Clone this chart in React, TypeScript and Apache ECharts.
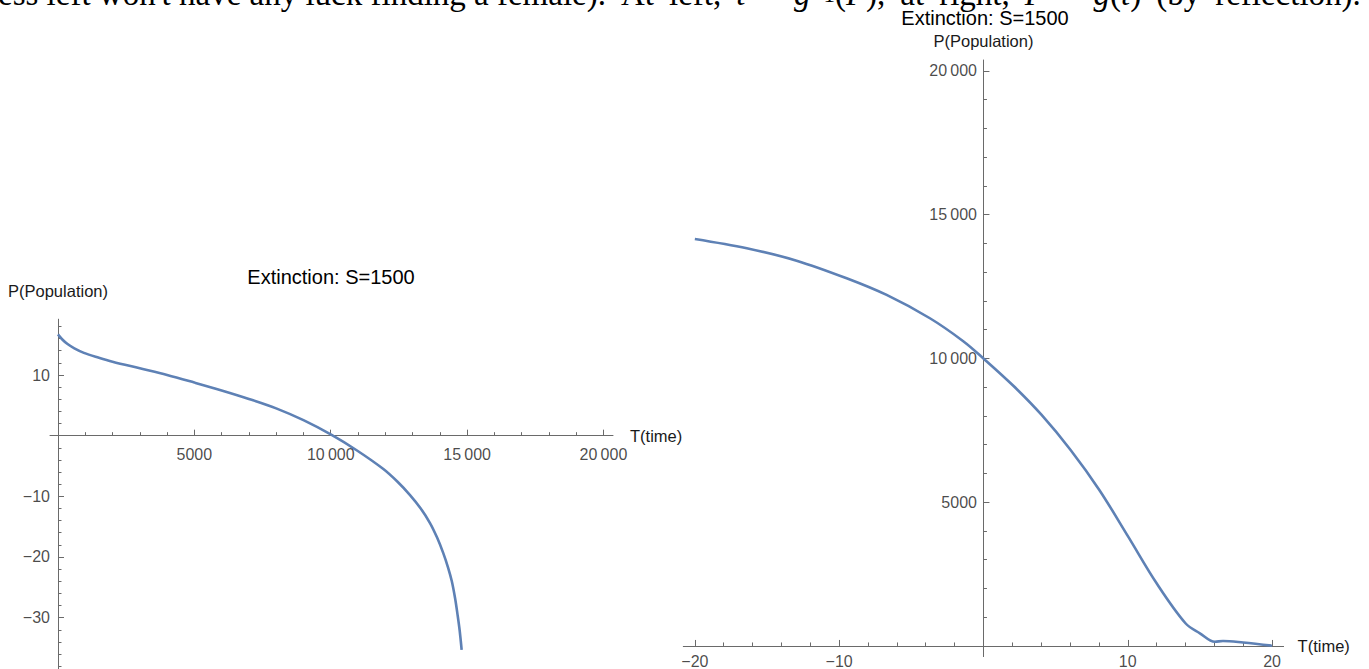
import React, { useEffect, useRef } from "react";
import * as echarts from "echarts";

// ---- data ----
const leftT = [0, 150, 350, 600, 950, 1500, 2000, 3000, 4000, 5000, 6000, 7000, 8000, 9000, 10000, 10950, 11930, 12450, 12900, 13300, 13640, 13900, 14130, 14300, 14440, 14560, 14650, 14730, 14800];
const leftP = [16.7, 15.9, 15.1, 14.4, 13.65, 12.85, 12.2, 11.1, 10.0, 8.75, 7.45, 6.05, 4.5, 2.55, 0.2, -2.4, -5.5, -7.6, -9.75, -12.0, -14.4, -16.8, -19.4, -21.7, -24.0, -26.8, -29.5, -32.2, -35.3];

const rightT = [-20, -16.4, -12.95, -9.48, -6.71, -3.71, -1.4, 0, 2.07, 4.03, 6.04, 8.03, 10.03, 12, 14, 15, 16.04, 16.6, 18, 20];
const rightP = [14157, 13833, 13402, 12789, 12209, 11398, 10600, 10000, 9050, 8035, 6817, 5426, 3802, 2180, 790, 440, 145, 175, 120, 10];

const leftXMajor = [5000, 10000, 15000, 20000];
const leftXMinor = [1000, 2000, 3000, 4000, 6000, 7000, 8000, 9000, 11000, 12000, 13000, 14000, 16000, 17000, 18000, 19000];
const leftYMajor = [10, -10, -20, -30];
const leftYMinor = [18, 16, 14, 12, 8, 6, 4, 2, -2, -4, -6, -8, -12, -14, -16, -18, -22, -24, -26, -28, -32, -34, -36, -38];

const rightXMajor = [-20, -10, 10, 20];
const rightXMinor = [-18, -16, -14, -12, -8, -6, -4, -2, 2, 4, 6, 8, 12, 14, 16, 18];
const rightYMajor = [5000, 10000, 15000, 20000];
const rightYMinor = [1000, 2000, 3000, 4000, 6000, 7000, 8000, 9000, 11000, 12000, 13000, 14000, 16000, 17000, 18000, 19000];

const titleText = "Extinction: S=1500";
const xName = "T(time)";
const yName = "P(Population)";

// ---- styling ----
const SANS = "'Liberation Sans', Arial, sans-serif";
const SERIF = "'Liberation Serif', 'Times New Roman', serif";
const AXIS = "#6a6a6a";
const LABEL = "#1a1a1a";
const CURVE = "#5E81B5";

function fmt(v: number): string {
  const a = Math.abs(v);
  const s = a >= 10000 ? String(a).replace(/\B(?=(\d{3})+(?!\d))/g, "\u2009") : String(a);
  return (v < 0 ? "\u2212" : "") + s;
}

function majorX(grid: number, zeroIdx: number, min: number, max: number, vals: number[], nameGap: number, namePad: number) {
  return {
    type: "value", gridIndex: grid, min, max, position: "bottom",
    axisLine: { show: true, onZero: true, onZeroAxisIndex: zeroIdx, lineStyle: { color: AXIS, width: 1 } },
    axisTick: { show: true, inside: true, length: 6, customValues: vals, lineStyle: { color: AXIS, width: 1 } },
    axisLabel: { show: false },
    splitLine: { show: false },
    name: xName, nameLocation: "end", nameGap,
    nameTextStyle: { color: LABEL, fontSize: 16.5, fontFamily: SANS, align: "left", verticalAlign: "middle", padding: [namePad, 0, 0, 0] },
  };
}
function minorX(grid: number, zeroIdx: number, min: number, max: number, vals: number[]) {
  return {
    type: "value", gridIndex: grid, min, max, position: "bottom",
    axisLine: { show: false, onZero: true, onZeroAxisIndex: zeroIdx },
    axisTick: { show: true, inside: true, length: 3.5, customValues: vals, lineStyle: { color: AXIS, width: 1 } },
    axisLabel: { show: false },
    splitLine: { show: false },
  };
}
function majorY(grid: number, zeroIdx: number, min: number, max: number, vals: number[], nameGap: number) {
  return {
    type: "value", gridIndex: grid, min, max, position: "left",
    axisLine: { show: true, onZero: true, onZeroAxisIndex: zeroIdx, lineStyle: { color: AXIS, width: 1 } },
    axisTick: { show: true, inside: true, length: 6, customValues: vals, lineStyle: { color: AXIS, width: 1 } },
    axisLabel: { show: false },
    splitLine: { show: false },
    name: yName, nameLocation: "end", nameGap,
    nameTextStyle: { color: LABEL, fontSize: 16.5, fontFamily: SANS, align: "center", verticalAlign: "middle" },
  };
}
function minorY(grid: number, zeroIdx: number, min: number, max: number, vals: number[]) {
  return {
    type: "value", gridIndex: grid, min, max, position: "left",
    axisLine: { show: false, onZero: true, onZeroAxisIndex: zeroIdx },
    axisTick: { show: true, inside: true, length: 3.5, customValues: vals, lineStyle: { color: AXIS, width: 1 } },
    axisLabel: { show: false },
    splitLine: { show: false },
  };
}

// tick labels placed on the zero line through the axes' own scales
function tickLabels(xi: number, yi: number, vals: number[], onX: boolean, distance: number) {
  return {
    type: "scatter", xAxisIndex: xi, yAxisIndex: yi, silent: true, z: 4,
    symbolSize: 1, itemStyle: { color: "rgba(0,0,0,0)" },
    data: vals.map((v) => (onX ? [v, 0] : [0, v])),
    label: {
      show: true, position: onX ? "bottom" : "left", distance,
      formatter: (p: any) => fmt(onX ? p.value[0] : p.value[1]),
      color: LABEL, fontSize: 16, fontFamily: SANS,
    },
  };
}

const SP = "{w| }";
const topLine =
  "ess left won't have any luck finding a female)." + SP + "At" + SP + "left," + SP +
  "{i|t}" + SP + "=" + SP + "{i|g}{s|\u22121}({i|P})," + SP + "at" + SP + "right," + SP +
  "{i|P}" + SP + "=" + SP + "{i|g}({i|t})" + SP + "(by" + SP + "reflection).";

export default function App() {
  const ref = useRef<HTMLDivElement>(null);
  useEffect(() => {
    if (!ref.current) return;
    const chart = echarts.init(ref.current, undefined, { renderer: "svg" });
    const option: any = {
      animation: false,
      backgroundColor: "#ffffff",
      grid: [
        { left: 50, top: 319.2, width: 563, height: 350, containLabel: false, outerBoundsMode: "none" },
        { left: 683.3, top: 60, width: 600.3, height: 596.6, containLabel: false, outerBoundsMode: "none" },
      ],
      xAxis: [
        majorX(0, 0, -293, 20350, leftXMajor, 17, 6),
        minorX(0, 0, -293, 20350, leftXMinor),
        majorX(1, 2, -20.8, 20.8, rightXMajor, 14, 8),
        minorX(1, 2, -20.8, 20.8, rightXMinor),
      ],
      yAxis: [
        majorY(0, 0, -38.5, 19.2, leftYMajor, 28),
        minorY(0, 0, -38.5, 19.2, leftYMinor),
        majorY(1, 2, -370, 20380, rightYMajor, 19.5),
        minorY(1, 2, -370, 20380, rightYMinor),
      ],
      series: [
        {
          type: "line", xAxisIndex: 0, yAxisIndex: 0,
          data: leftT.map((t, i) => [t, leftP[i]]),
          showSymbol: false, smooth: 0.35,
          lineStyle: { color: CURVE, width: 2.6 }, itemStyle: { color: CURVE },
        },
        {
          type: "line", xAxisIndex: 2, yAxisIndex: 2,
          data: rightT.map((t, i) => [t, rightP[i]]),
          showSymbol: false, smooth: 0.35,
          lineStyle: { color: CURVE, width: 2.6 }, itemStyle: { color: CURVE },
        },
        tickLabels(0, 0, leftXMajor, true, 10),
        tickLabels(0, 0, leftYMajor, false, 7.5),
        tickLabels(2, 2, rightXMajor, true, 7.5),
        tickLabels(2, 2, rightYMajor, false, 6),
      ],
      graphic: [
        {
          type: "text", x: -2, y: -6, silent: true,
          style: {
            text: topLine,
            fontFamily: SERIF, fontSize: 33, fill: "#000",
            textAlign: "left", textVerticalAlign: "middle",
            rich: {
              i: { fontFamily: SERIF, fontSize: 33, fontStyle: "italic", fill: "#000" },
              s: { fontFamily: SERIF, fontSize: 23, fill: "#000" },
              w: { fontFamily: SERIF, fontSize: 33, width: 15, fill: "#000" },
            },
          },
        },
        {
          type: "text", x: 331, y: 277, silent: true,
          style: { text: titleText, fontFamily: SANS, fontSize: 20, fill: "#000", textAlign: "center", textVerticalAlign: "middle" },
        },
        {
          type: "text", x: 985, y: 18, silent: true,
          style: { text: titleText, fontFamily: SANS, fontSize: 20, fill: "#000", textAlign: "center", textVerticalAlign: "middle" },
        },
      ],
    };
    chart.setOption(option);
    return () => chart.dispose();
  }, []);
  return <div ref={ref} style={{ position: "fixed", left: 0, top: 0, width: 1369, height: 669 }} />;
}
